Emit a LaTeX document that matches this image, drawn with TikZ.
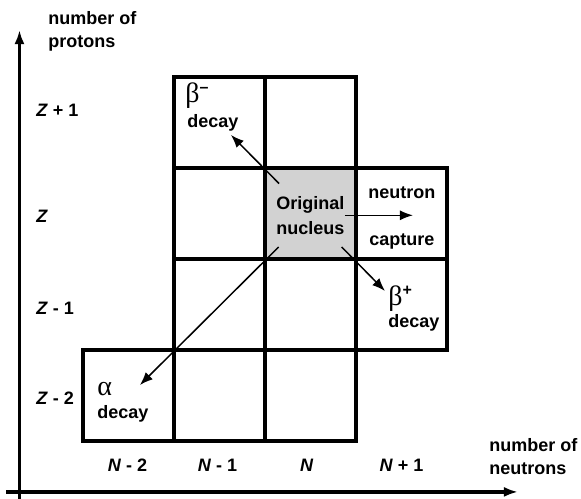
\documentclass[tikz,border=0pt]{standalone}
\usepackage{fontspec}
\setmainfont{Liberation Sans}
\newfontfamily\grkfont{Liberation Serif}
\usetikzlibrary{arrows.meta,positioning}
\definecolor{nucGray}{RGB}{210,210,210}
\newcommand{\supsign}[1]{\raisebox{0.8ex}{\rmfamily\bfseries\fontsize{8}{8}\selectfont #1}}
\tikzset{
  cell/.style={draw, line width=1.7pt, minimum size=1.6cm, inner sep=0pt},
  lbl/.style={font=\bfseries\fontsize{9}{11.5}\selectfont, inner sep=0pt},
  grk/.style={font=\grkfont\fontsize{14}{14}\selectfont, inner sep=0pt},
  decayarrow/.style={line width=0.75pt, -{Latex[length=6.5pt,width=5pt]}},
  axisarrow/.style={line width=1.7pt, -{Latex[length=7pt,width=5pt]}}
}
\begin{document}
\begin{tikzpicture}[x=1.6cm,y=1.6cm]
\useasboundingbox (-0.912,-0.637) rectangle (5.473,4.846);
% axes
\coordinate (yfoot) at (-0.698,-0.637);
\coordinate (ytop) at (-0.698,4.516);
\coordinate (xfoot) at (-0.846,-0.56);
\coordinate (xtip) at (4.78,-0.56);
\draw[axisarrow] (yfoot) -- (ytop);
\draw[axisarrow] (xfoot) -- (xtip);
\node[lbl, anchor=west, align=left] (ylab) at (-0.385,4.5) {number of\\protons};
\node[lbl, anchor=west, align=left] (xlab) at (4.462,-0.17) {number of\\neutrons};
% chart of nuclides
\node[cell, fill=nucGray] (c22) at (2.5,2.5) {};
\foreach \i/\j in {1/3,2/3,1/2,3/2,1/1,2/1,3/1,0/0,1/0,2/0}
  \node[cell] (c\i\j) at (\i+0.5,\j+0.5) {};
\node[lbl, align=center, minimum size=1.1cm, font=\bfseries\fontsize{9}{12.5}\selectfont] (orig) at (2.5,2.48) {Original\\nucleus};
% row and column labels
\node[lbl, anchor=west] (zp1) at (-0.516,3.637) {\textit{Z} + 1};
\node[lbl, anchor=west] (z0) at (-0.516,2.465) {\textit{Z}};
\node[lbl, anchor=west] (zm1) at (-0.516,1.462) {\textit{Z} - 1};
\node[lbl, anchor=west] (zm2) at (-0.516,0.473) {\textit{Z} - 2};
\node[lbl] (nm2) at (0.49,-0.264) {\textit{N} - 2};
\node[lbl] (nm1) at (1.478,-0.264) {\textit{N} - 1};
\node[lbl] (n0) at (2.458,-0.264) {\textit{N}};
\node[lbl] (np1) at (3.5,-0.264) {\textit{N} + 1};
% decay labels
\node[grk, anchor=west] (bm) at (1.121,3.79) {β\supsign{–}};
\node[lbl, anchor=west] (bmdecay) at (1.143,3.495) {decay};
\node[grk, anchor=west] (bp) at (3.352,1.56) {β\supsign{+}};
\node[lbl, anchor=west] (bpdecay) at (3.352,1.297) {decay};
\node[grk, anchor=west] (al) at (0.154,0.57) {α};
\node[lbl, anchor=west] (aldecay) at (0.154,0.297) {decay};
\node[lbl] (neut) at (3.505,2.725) {neutron};
\node[lbl] (capt) at (3.505,2.187) {capture};
% decay arrows
\coordinate (bmtip) at (1.626,3.363);
\coordinate (bptip) at (3.319,1.648);
\coordinate (altip) at (0.626,0.615);
\coordinate (ncap) at (3.626,2.48);
\draw[decayarrow] (orig) -- (bmtip);
\draw[decayarrow] (orig) -- (bptip);
\draw[decayarrow] (orig) -- (altip);
\draw[decayarrow] (orig) -- (ncap);
\end{tikzpicture}
\end{document}
